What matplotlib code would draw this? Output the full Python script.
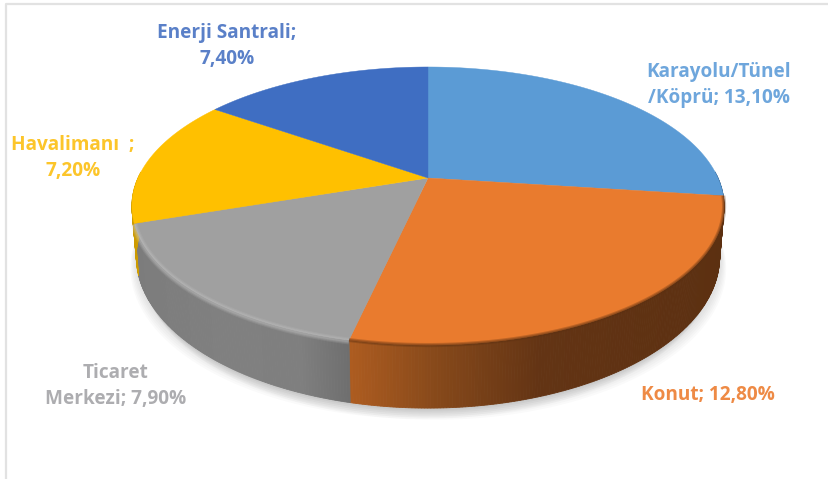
import numpy as np
import matplotlib
matplotlib.use("Agg")
import matplotlib.pyplot as plt
from matplotlib.colors import to_rgb

# values from the data labels, clockwise from 12 o'clock
categories = ["Karayolu/Tünel\n/Köprü", "Konut", "Ticaret\nMerkezi", "Havalimanı  ", "Enerji Santrali"]
values = [13.10, 12.80, 7.90, 7.20, 7.40]
colors = ["#5b9bd5", "#e97b2e", "#a0a0a0", "#ffc000", "#3f6ec2"]
label_colors = ["#6ea6dc", "#ee8a45", "#adadb0", "#fcc52a", "#5a80c8"]
label_pos = [(719, 85), (708, 395), (116, 386), (73, 158), (227, 46)]

# side wall colours as (x pixel, colour) stops
side_stops = [
    [(700, "#2f5a85"), (730, "#2f5a85")],
    [(350, "#ad5c20"), (440, "#85481a"), (540, "#633414"), (730, "#5c3011")],
    [(130, "#7c7c7c"), (220, "#808080"), (300, "#7f7f7f"), (350, "#6e6e6e")],
    [(130, "#c79600"), (140, "#e0aa00")],
    [(130, "#2a4a85"), (140, "#2a4a85")],
]

CX, CY = 428, 178
A, B, K = 133.4, 290, 0.2016


def top_xy(theta, r=1.0):
    # tilted circle in perspective, theta clockwise from the top
    u = r * np.sin(theta)
    v = r * np.cos(theta)
    d = 1 + K * v
    return CX + B * u / d, CY - A * v / d


def bottom_xy(theta):
    x, y = top_xy(theta)
    front = np.clip((y - CY - 20) / 147, 0, 1)
    return CX + (x - CX) * 0.985, y + 50 + 13 * front


def side_color(stops, x):
    xs = [s[0] for s in stops]
    rgb = np.array([to_rgb(s[1]) for s in stops])
    return [np.interp(x, xs, rgb[:, i]) for i in range(3)]


fig = plt.figure(figsize=(8.29, 4.79), dpi=100)
ax = fig.add_axes([0, 0, 1, 1])
ax.set_xlim(0, 829)
ax.set_ylim(479, 0)
ax.axis("off")

# chart frame
ax.plot([6, 6, 829], [479, 4, 4], color="#e2e2e2", lw=1.6)

edges = np.concatenate([[0], np.cumsum(values)]) / sum(values) * 2 * np.pi

# soft shadow under the pie
t = np.linspace(np.pi * 0.4, np.pi * 1.6, 200)
bx, by = bottom_xy(t)
for i in range(1, 14):
    ax.fill(bx + (i * 0.5 if i % 2 else -i * 0.5), by + i * 0.9, color="#808080", alpha=0.04, lw=0)

# side wall
for i in range(len(values)):
    n = max(2, int((edges[i + 1] - edges[i]) / np.radians(0.5)))
    th = np.linspace(edges[i], edges[i + 1], n)
    for a, b in zip(th[:-1], th[1:]):
        x0, y0 = top_xy(a)
        x1, y1 = top_xy(b)
        x2, y2 = bottom_xy(b)
        x3, y3 = bottom_xy(a)
        if np.cos((a + b) / 2) > 0.05:
            continue
        c = side_color(side_stops[i], (x0 + x1) / 2)
        ax.fill([x0, x1, x2, x3], [y0, y1, y2, y3], color=c, lw=0.6)

# top face
for i in range(len(values)):
    th = np.linspace(edges[i], edges[i + 1], 200)
    x, y = top_xy(th)
    ax.fill(np.r_[CX, x], np.r_[CY, y], color=colors[i], lw=0.3)

# bevel along the front rim
th = np.linspace(edges[2], edges[3], 200)
th = th[np.cos(th) < -0.05]
for r, lw, al in [(1.0, 5, 0.15), (1.0, 3.5, 0.2), (1.0, 2, 0.25)]:
    x, y = top_xy(th, r)
    ax.plot(x, y + 1, color="#c8c8c8", lw=lw, alpha=al, solid_capstyle="butt")
th = np.linspace(edges[1], edges[2], 300)
for r, lw, al in [(1.0, 3.0, 0.3), (1.0, 1.5, 0.35)]:
    x, y = top_xy(th, r)
    ax.plot(x, y, color="#5c3011", lw=lw, alpha=al, solid_capstyle="butt")

# labels
for i in range(len(values)):
    txt = f"{categories[i]}; {values[i]:.2f}%".replace(".", ",")
    if i == 3 or i == 4:
        txt = f"{categories[i]};\n{values[i]:.2f}%".replace(".", ",")
    ax.text(label_pos[i][0], label_pos[i][1], txt, color=label_colors[i],
            ha="center", va="center", fontsize=13.7, fontweight="bold",
            family="Open Sans", linespacing=1.4)

fig.savefig("out.png", dpi=100)
